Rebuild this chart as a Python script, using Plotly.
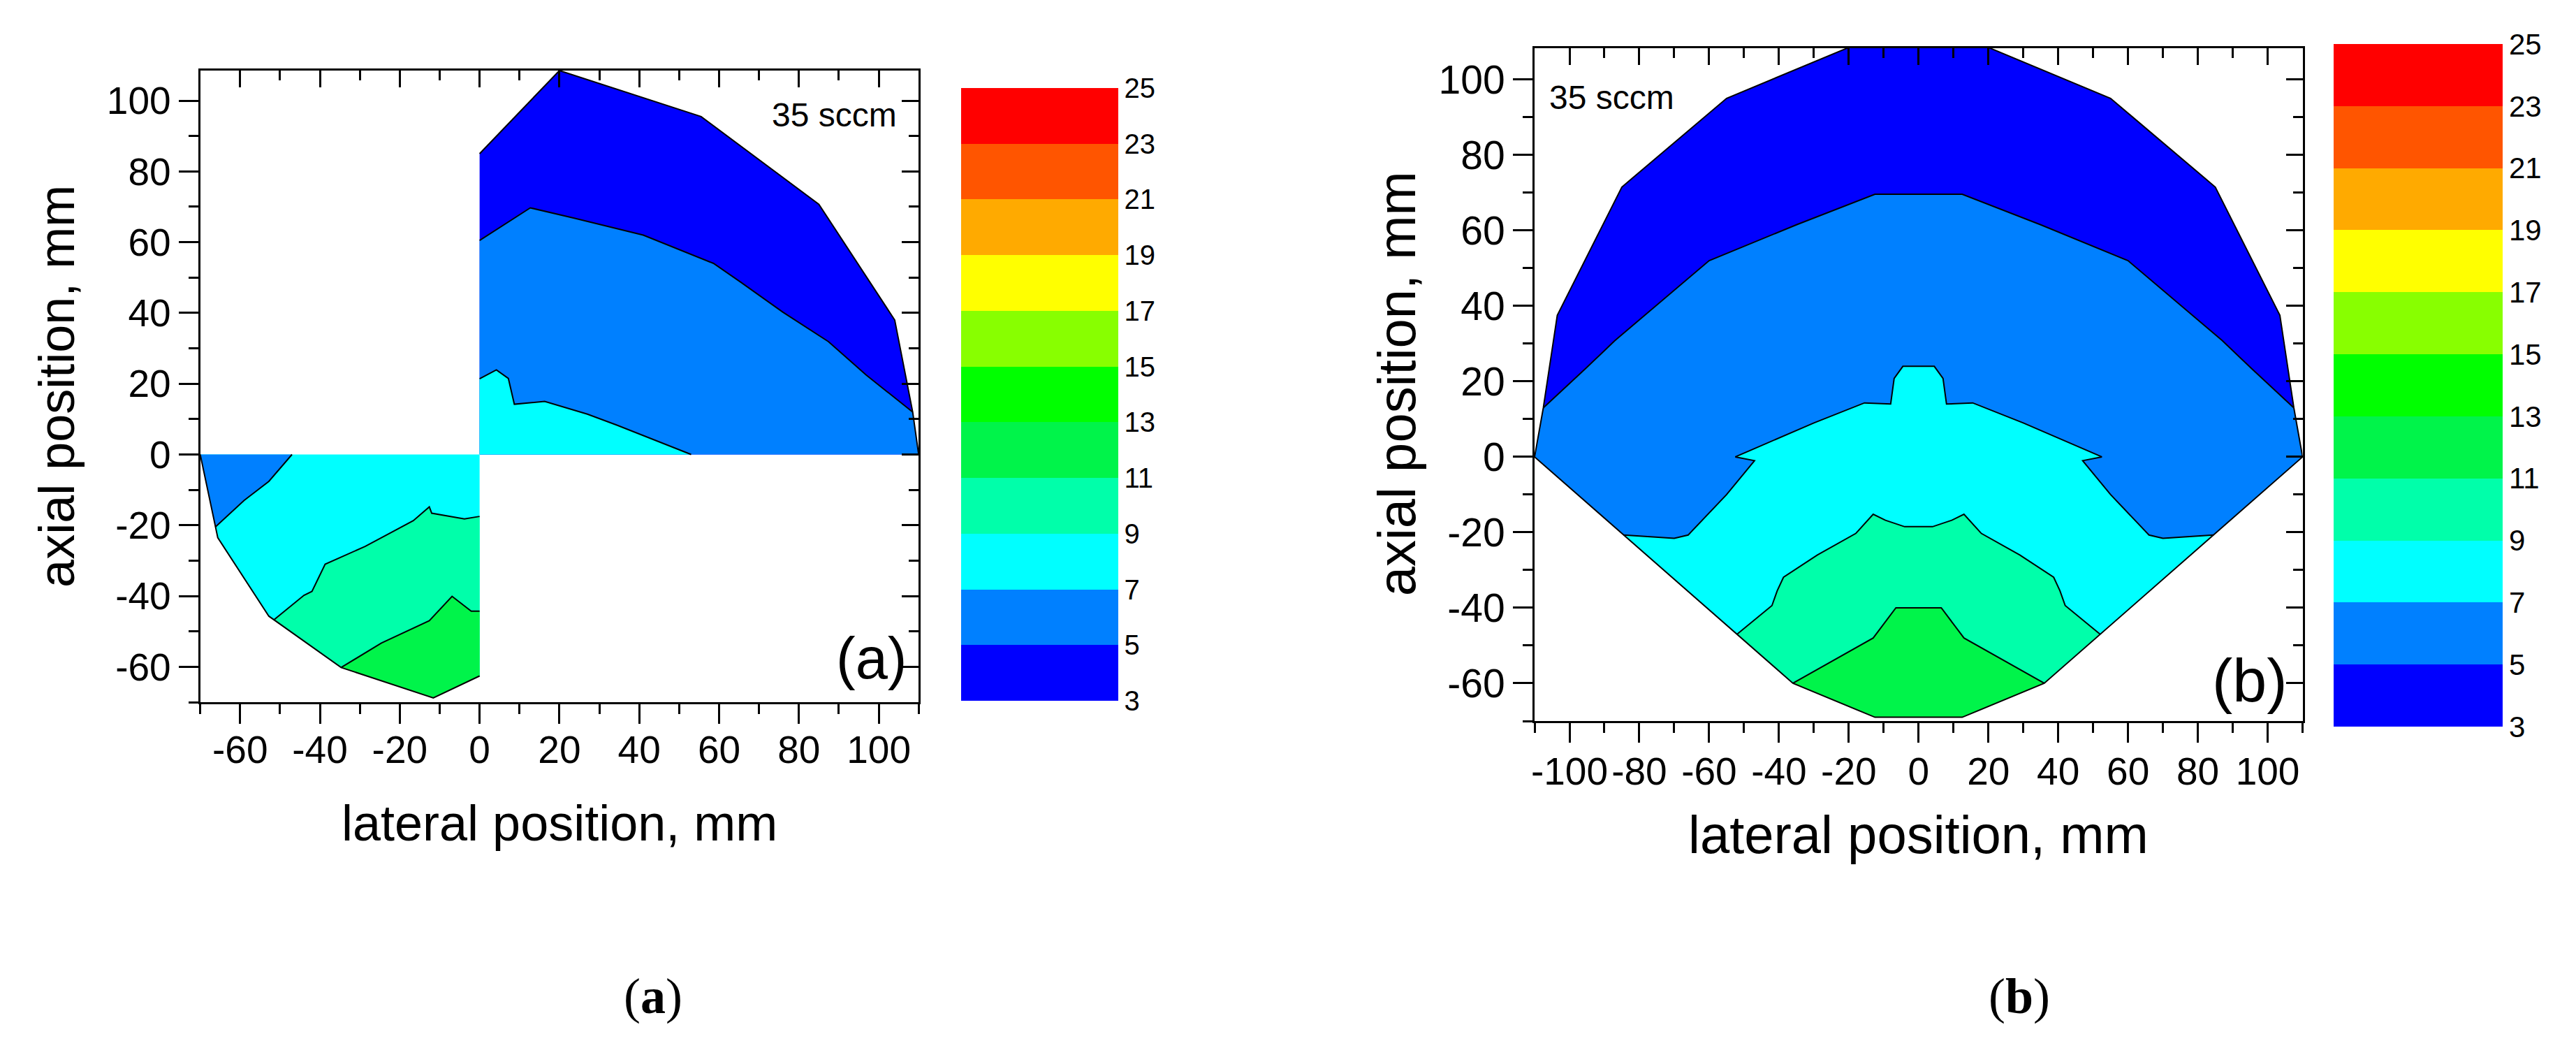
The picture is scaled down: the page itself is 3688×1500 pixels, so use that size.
import plotly.graph_objects as go

W, H = 3688, 1500
FONT = "Liberation Sans, Arial, sans-serif"

# ---------------- colour levels ----------------
levels = [3, 5, 7, 9, 11, 13, 15, 17, 19, 21, 23, 25]
level_colors = ["#0000FF", "#0080FF", "#00FFFF", "#00FFAA", "#00F44A", "#00FF00",
                "#88FF00", "#FFFF00", "#FFAA00", "#FF5500", "#FF0000"]

# ---------------- panel (a): upper-right quadrant ----------------
a_ur_edge_x = [0, 20, 55.5, 85, 104, 108.5, 110]
a_ur_edge_y = [85, 108.5, 95.5, 70.7, 38, 12, 0]
a_ur_c5_x = [0, 12.7, 23.7, 41, 58.6, 65.3, 76, 87.4, 96.8, 108.5]
a_ur_c5_y = [60.5, 69.7, 66.8, 62, 54, 48.8, 40.2, 31.9, 22.5, 12]
a_ur_c7_x = [0, 4.2, 7.2, 8.7, 16.3, 27, 34.4, 53]
a_ur_c7_y = [21.4, 23.9, 21.5, 14.2, 15, 11.4, 8.3, 0]
a_ur_corner_x = [0]
a_ur_corner_y = [0]

# ---------------- panel (a): lower-left quadrant ----------------
a_ll_edge_x = [-70, -65.6, -52.8, -34.7, -11.6, 0]
a_ll_edge_y = [0, -23.5, -45.7, -60.2, -68.8, -62.6]
a_ll_c7_x = [-47, -52.8, -59, -66.2]
a_ll_c7_y = [0, -7.6, -13, -20.5]
a_ll_c9_x = [-51.5, -44, -42, -38.7, -28.7, -16.6, -12.6, -12, -3.8, 0]
a_ll_c9_y = [-46.7, -39.8, -38.7, -31, -26, -18.7, -14.8, -16.6, -18.2, -17.5]
a_ll_c11_x = [-34.7, -24.6, -12.6, -6.9, -2.1, 0]
a_ll_c11_y = [-60.2, -53.3, -47, -40.1, -44.3, -44.3]
a_ll_corner_x = [0]
a_ll_corner_y = [0]

# ---------------- panel (b): full map ----------------
b_edge_x = [-110, -107.5, -103.5, -85, -55, -20, 20, 55, 85, 103.5, 107.5, 110, 36, 12.5, -12.5, -36, -110]
b_edge_y = [0, 13, 37.5, 71.5, 95, 108.5, 108.5, 95, 71.5, 37.5, 13, 0, -60, -69, -69, -60, 0]
b_c5_x = [-107.5, -95.5, -87, -60, -35, -12.5, 12.5, 35, 60, 87, 95.5, 107.5]
b_c5_y = [13, 23.3, 30.8, 52, 61.5, 69.6, 69.6, 61.5, 52, 30.8, 23.3, 13]
b_c7_x = [-84.5, -70, -66, -55, -47, -52.5, -47.5, -30, -15.5, -8, -7, -4.5,
          4.5, 7, 8, 15.5, 30, 47.5, 52.5, 47, 55, 66, 70, 84.5]
b_c7_y = [-20.7, -21.6, -20.7, -10, -1, 0, 2, 9, 14.3, 14, 20.8, 24,
          24, 20.8, 14, 14.3, 9, 2, 0, -1, -10, -20.7, -21.6, -20.7]
b_c9_x = [-52, -42, -40.5, -38.7, -29, -18, -13, -9.5, -4, 4, 9.5, 13, 18, 29, 38.7, 40.5, 42, 52]
b_c9_y = [-47, -39.4, -35.5, -31.9, -26, -20.3, -15.2, -16.8, -18.5, -18.5, -16.8, -15.2,
          -20.3, -26, -31.9, -35.5, -39.4, -47]
b_c11_x = [-36, -13, -6.5, 6.5, 13, 36]
b_c11_y = [-60, -48, -40, -40, -48, -60]

x_ticks_a = [-60, -40, -20, 0, 20, 40, 60, 80, 100]
x_ticks_b = [-100, -80, -60, -40, -20, 0, 20, 40, 60, 80, 100]
y_ticks = [-60, -40, -20, 0, 20, 40, 60, 80, 100]

fig = go.Figure()


def fill(xs, ys, color, xa, ya):
    fig.add_trace(go.Scatter(x=xs, y=ys, fill="toself", fillcolor=color, mode="lines",
                             line=dict(width=0, color=color), hoverinfo="skip",
                             showlegend=False, xaxis=xa, yaxis=ya))


def line(xs, ys, xa, ya):
    fig.add_trace(go.Scatter(x=xs, y=ys, mode="lines", line=dict(color="black", width=2),
                             hoverinfo="skip", showlegend=False, xaxis=xa, yaxis=ya))


C = level_colors
# ---- panel (a) fills ----
fill(a_ur_edge_x + a_ur_corner_x, a_ur_edge_y + a_ur_corner_y, C[0], "x", "y")
fill(a_ur_c5_x + a_ur_edge_x[-1:] + a_ur_corner_x, a_ur_c5_y + a_ur_edge_y[-1:] + a_ur_corner_y, C[1], "x", "y")
fill(a_ur_c7_x + a_ur_corner_x, a_ur_c7_y + a_ur_corner_y, C[2], "x", "y")

fill(a_ll_edge_x + a_ll_corner_x, a_ll_edge_y + a_ll_corner_y, C[2], "x", "y")
fill(a_ll_edge_x[:1] + a_ll_c7_x, a_ll_edge_y[:1] + a_ll_c7_y, C[1], "x", "y")
fill(a_ll_c9_x + a_ll_edge_x[:2:-1], a_ll_c9_y + a_ll_edge_y[:2:-1], C[3], "x", "y")
fill(a_ll_c11_x + a_ll_edge_x[:3:-1], a_ll_c11_y + a_ll_edge_y[:3:-1], C[4], "x", "y")

for xs, ys in [(a_ur_edge_x, a_ur_edge_y), (a_ur_c5_x, a_ur_c5_y), (a_ur_c7_x, a_ur_c7_y),
               (a_ll_edge_x, a_ll_edge_y), (a_ll_c7_x, a_ll_c7_y), (a_ll_c9_x, a_ll_c9_y),
               (a_ll_c11_x, a_ll_c11_y)]:
    line(xs, ys, "x", "y")

# ---- panel (b) fills ----
fill(b_edge_x, b_edge_y, C[0], "x2", "y2")
fill(b_c5_x + b_edge_x[11:17], b_c5_y + b_edge_y[11:17], C[1], "x2", "y2")
fill(b_c7_x + b_edge_x[12:16], b_c7_y + b_edge_y[12:16], C[2], "x2", "y2")
fill(b_c9_x + b_edge_x[12:16], b_c9_y + b_edge_y[12:16], C[3], "x2", "y2")
fill(b_c11_x + b_edge_x[13:15], b_c11_y + b_edge_y[13:15], C[4], "x2", "y2")
for xs, ys in [(b_edge_x, b_edge_y), (b_c5_x, b_c5_y), (b_c7_x, b_c7_y),
               (b_c9_x, b_c9_y), (b_c11_x, b_c11_y)]:
    line(xs, ys, "x2", "y2")

# ---- colour bars ----
cscale = []
for i, c in enumerate(level_colors):
    cscale.append([i / len(level_colors), c])
    cscale.append([(i + 1) / len(level_colors), c])


def cbar(x0, top, thick, length, fsize, xa, ya):
    fig.add_trace(go.Scatter(
        x=[None], y=[None], mode="markers", showlegend=False, hoverinfo="skip",
        xaxis=xa, yaxis=ya,
        marker=dict(color=[levels[0]], colorscale=cscale, cmin=levels[0], cmax=levels[-1],
                    showscale=True,
                    colorbar=dict(x=x0 / W, xanchor="left", xpad=0, y=1 - top / H, yanchor="top",
                                  ypad=0, thickness=thick, thicknessmode="pixels",
                                  len=length, lenmode="pixels", outlinewidth=0,
                                  tickvals=levels, ticktext=[str(v) for v in levels],
                                  ticks="", ticklen=0,
                                  tickfont=dict(family=FONT, size=fsize, color="black")))))


cbar(1365, 118, 225, 877, 40, "x", "y")
cbar(3333, 55, 242, 977, 42, "x2", "y2")


def labels(vals):
    # plain ASCII hyphen for negatives, as in the original figure
    return [str(v) for v in vals]


# ---- axes ----
def ax_common(rng, tickvals, fsize, side_in=False, standoff=0):
    d = dict(range=rng, showline=True, linecolor="black", linewidth=3, showgrid=False,
             zeroline=False, tickmode="array", tickvals=tickvals, ticktext=labels(tickvals),
             tickwidth=3, tickcolor="black",
             ticklen=28 if not side_in else 24,
             ticks="inside" if side_in else "outside",
             minor=dict(ticks="inside" if side_in else "outside", ticklen=14, tickwidth=3,
                        tickcolor="black", dtick=10, tick0=0, showgrid=False),
             tickfont=dict(family=FONT, size=fsize, color="black"),
             tickangle=0, ticklabelstandoff=standoff,
             fixedrange=True)
    return d


xa_dom = [274 / W, 1304 / W]
ya_dom = [1 - 997 / H, 1 - 93 / H]
xb_dom = [2187 / W, 3288 / W]
yb_dom = [1 - 1024 / H, 1 - 61 / H]
rxa, rya = [-70, 110], [-70, 108.5]
rxb, ryb = [-110, 110], [-70, 108.3]

fig.update_layout(
    xaxis=dict(domain=xa_dom, anchor="y", **ax_common(rxa, x_ticks_a, 55, standoff=-10)),
    yaxis=dict(domain=ya_dom, anchor="x", **ax_common(rya, y_ticks, 55)),
    xaxis3=dict(overlaying="x", anchor="y", side="top", showticklabels=False,
                **ax_common(rxa, x_ticks_a, 55, True)),
    yaxis3=dict(overlaying="y", anchor="x", side="right", showticklabels=False,
                **ax_common(rya, y_ticks, 55, True)),
    xaxis2=dict(domain=xb_dom, anchor="y2", **ax_common(rxb, x_ticks_b, 55, standoff=-6)),
    yaxis2=dict(domain=yb_dom, anchor="x2", **ax_common(ryb, y_ticks, 57)),
    xaxis4=dict(overlaying="x2", anchor="y2", side="top", showticklabels=False,
                **ax_common(rxb, x_ticks_b, 55, True)),
    yaxis4=dict(overlaying="y2", anchor="x2", side="right", showticklabels=False,
                **ax_common(ryb, y_ticks, 57, True)),
)
# empty traces so the overlay (top/right) axes are drawn
fig.add_trace(go.Scatter(x=[None], y=[None], xaxis="x3", yaxis="y", showlegend=False))
fig.add_trace(go.Scatter(x=[None], y=[None], xaxis="x", yaxis="y3", showlegend=False))
fig.add_trace(go.Scatter(x=[None], y=[None], xaxis="x4", yaxis="y2", showlegend=False))
fig.add_trace(go.Scatter(x=[None], y=[None], xaxis="x2", yaxis="y4", showlegend=False))

ann = []
# axis titles
ann.append(dict(text="lateral position, mm", xref="paper", yref="paper", x=789 / W, y=1 - 1170 / H,
                xanchor="center", yanchor="middle", showarrow=False,
                font=dict(family=FONT, size=72, color="black")))
ann.append(dict(text="lateral position, mm", xref="paper", yref="paper", x=2737 / W, y=1 - 1186 / H,
                xanchor="center", yanchor="middle", showarrow=False,
                font=dict(family=FONT, size=76, color="black")))
ann.append(dict(text="axial position, mm", xref="paper", yref="paper", x=68 / W, y=1 - 545 / H,
                xanchor="center", yanchor="middle", showarrow=False, textangle=-90,
                font=dict(family=FONT, size=72, color="black")))
ann.append(dict(text="axial position, mm", xref="paper", yref="paper", x=1989 / W, y=1 - 541 / H,
                xanchor="center", yanchor="middle", showarrow=False, textangle=-90,
                font=dict(family=FONT, size=76, color="black")))
# in-panel labels
ann.append(dict(text="35 sccm", xref="x", yref="y", x=104.9, y=96.0, xanchor="right", yanchor="middle",
                showarrow=False, font=dict(family=FONT, size=48, color="black")))
ann.append(dict(text="35 sccm", xref="x2", yref="y2", x=-106.2, y=95.2, xanchor="left", yanchor="middle",
                showarrow=False, font=dict(family=FONT, size=48, color="black")))
ann.append(dict(text="(a)", xref="x", yref="y", x=107.4, y=-57.7, xanchor="right", yanchor="middle",
                showarrow=False, font=dict(family=FONT, size=83, color="black")))
ann.append(dict(text="(b)", xref="x2", yref="y2", x=106, y=-59.2, xanchor="right", yanchor="middle",
                showarrow=False, font=dict(family=FONT, size=88, color="black")))
# captions
ann.append(dict(text="(<b>a</b>)", xref="paper", yref="paper", x=923 / W, y=1 - 1418 / H,
                xanchor="center", yanchor="middle", showarrow=False,
                font=dict(family="Liberation Serif, Times New Roman, serif", size=72, color="black")))
ann.append(dict(text="(<b>b</b>)", xref="paper", yref="paper", x=2882 / W, y=1 - 1418 / H,
                xanchor="center", yanchor="middle", showarrow=False,
                font=dict(family="Liberation Serif, Times New Roman, serif", size=72, color="black")))

fig.update_layout(width=W, height=H, margin=dict(l=0, r=0, t=0, b=0),
                  paper_bgcolor="white", plot_bgcolor="white", annotations=ann,
                  showlegend=False, font=dict(family=FONT, color="black"))

fig.write_html("out.html", config={"displayModeBar": False})
